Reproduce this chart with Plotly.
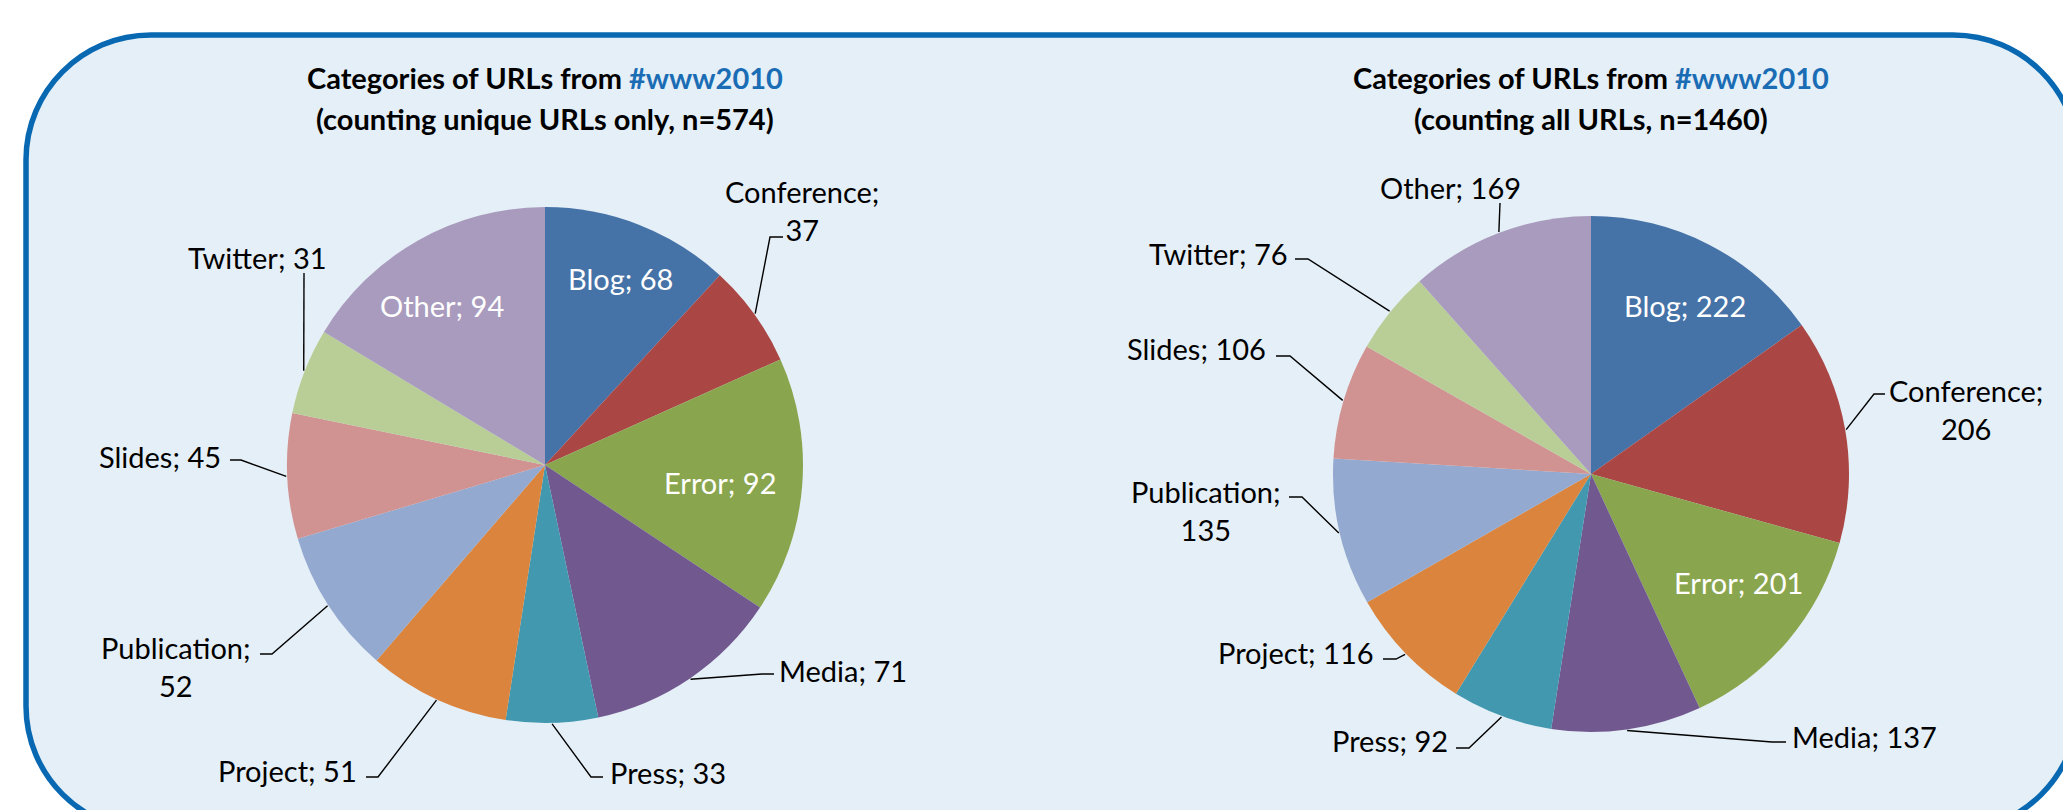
import math
import plotly.graph_objects as go

# ---------------- data ----------------
categories = ["Blog", "Conference", "Error", "Media", "Press", "Project",
              "Publication", "Slides", "Twitter", "Other"]
unique_counts = [68, 37, 92, 71, 33, 51, 52, 45, 31, 94]      # n = 574
all_counts = [222, 206, 201, 137, 92, 116, 135, 106, 76, 169]  # n = 1460
title_left = "Categories of URLs from "
title_tag = "#www2010"
subtitle_left = "(counting unique URLs only, n=574)"
subtitle_right = "(counting all URLs, n=1460)"

# ---------------- style ----------------
W, H = 2063, 810
R = 258
slice_colors = ["#4572A7", "#AA4643", "#89A54E", "#71588F", "#4198AF",
                "#DB843D", "#93A9CF", "#D19392", "#B9CD96", "#A99BBD"]
FONT = "Lato"
LABEL_SIZE = 29
TITLE_SIZE = 29
BG_FILL = "#E5EFF7"
BORDER = "#0868B2"
TAG_COLOR = "#1A6DB4"

# label placement (pixel coordinates, y downward) -- style only
left_style = dict(
    center=(545, 465),
    wrap={"Conference", "Publication"},
    labels={
        "Blog": ("in", 620, 278, "center", []),
        "Conference": ("out", 802, 210, "center", [(770, 237), (783, 237)]),
        "Error": ("in", 720, 482, "center", []),
        "Media": ("out", 777, 670, "left", [(762, 674), (774, 674)]),
        "Press": ("out", 608, 772, "left", [(591, 777), (603, 777)]),
        "Project": ("out", 359, 770, "right", [(378, 777), (366, 777)]),
        "Publication": ("out", 253, 666, "right", [(272, 654), (260, 654)]),
        "Slides": ("out", 223, 456, "right", [(241, 460), (230, 460)]),
        "Twitter": ("out", 257, 257, "center", [(304, 273)]),
        "Other": ("in", 442, 305, "center", []),
    },
)
right_style = dict(
    center=(1591, 474),
    wrap={"Conference", "Publication"},
    labels={
        "Blog": ("in", 1685, 305, "center", []),
        "Conference": ("out", 1887, 409, "left", [(1874, 394), (1885, 394)]),
        "Error": ("in", 1738, 582, "center", []),
        "Media": ("out", 1790, 736, "left", [(1772, 742), (1786, 742)]),
        "Press": ("out", 1450, 740, "right", [(1469, 748), (1456, 748)]),
        "Project": ("out", 1376, 652, "right", [(1396, 659), (1383, 659)]),
        "Publication": ("out", 1283, 510, "right", [(1302, 497), (1289, 497)]),
        "Slides": ("out", 1268, 348, "right", [(1290, 356), (1276, 356)]),
        "Twitter": ("out", 1290, 253, "right", [(1308, 259), (1295, 259)]),
        "Other": ("out", 1450, 187, "center", [(1500, 203)]),
    },
)

fig = go.Figure()
annotations = []


def add_pie(values, style, title_sub):
    cx, cy = style["center"]
    fig.add_trace(go.Pie(
        labels=categories, values=values, sort=False, direction="clockwise",
        rotation=0, marker=dict(colors=slice_colors, line=dict(width=0)),
        textinfo="none", hoverinfo="label+value", showlegend=False,
        domain=dict(x=[(cx - R) / W, (cx + R) / W],
                    y=[1 - (cy + R) / H, 1 - (cy - R) / H]),
    ))
    total = sum(values)
    cum = 0
    lx, ly = [], []
    for cat, v in zip(categories, values):
        mid = (cum + v / 2) / total * 2 * math.pi
        cum += v
        kind, tx, ty, anchor, route = style["labels"][cat]
        sep = "<br>" if cat in style["wrap"] else " "
        text = f"{cat};{sep}{v}"
        annotations.append(dict(
            x=tx, y=ty, xref="x", yref="y", text=text, showarrow=False,
            xanchor=anchor, yanchor="middle", align="center",
            font=dict(family=FONT, size=LABEL_SIZE,
                      color="white" if kind == "in" else "black"),
        ))
        if kind == "out":
            ex = cx + (R + 1) * math.sin(mid)
            ey = cy - (R + 1) * math.cos(mid)
            pts = [(ex, ey)] + route
            lx += [p[0] for p in pts] + [None]
            ly += [p[1] for p in pts] + [None]
    fig.add_trace(go.Scatter(x=lx, y=ly, mode="lines", hoverinfo="skip",
                             line=dict(color="black", width=1.4),
                             showlegend=False))
    annotations.append(dict(
        x=cx, y=77, xref="x", yref="y", showarrow=False,
        xanchor="center", yanchor="middle",
        text=f"<b>{title_left}<span style='color:{TAG_COLOR}'>{title_tag}</span></b>",
        font=dict(family=FONT, size=TITLE_SIZE, color="black"),
    ))
    annotations.append(dict(
        x=cx, y=118, xref="x", yref="y", showarrow=False,
        xanchor="center", yanchor="middle",
        text=f"<b>{title_sub}</b>",
        font=dict(family=FONT, size=TITLE_SIZE, color="black"),
    ))


add_pie(unique_counts, left_style, subtitle_left)
add_pie(all_counts, right_style, subtitle_right)

# rounded background panel
x0, y0, x1, y1, r = 26, 35, 2078, 831, 125
k = 0.5523 * r
path = (f"M {x0 + r},{y0} L {x1 - r},{y0} "
        f"C {x1 - r + k},{y0} {x1},{y0 + r - k} {x1},{y0 + r} "
        f"L {x1},{y1 - r} "
        f"C {x1},{y1 - r + k} {x1 - r + k},{y1} {x1 - r},{y1} "
        f"L {x0 + r},{y1} "
        f"C {x0 + r - k},{y1} {x0},{y1 - r + k} {x0},{y1 - r} "
        f"L {x0},{y0 + r} "
        f"C {x0},{y0 + r - k} {x0 + r - k},{y0} {x0 + r},{y0} Z")

fig.update_layout(
    width=W, height=H, margin=dict(l=0, r=0, t=0, b=0),
    paper_bgcolor="white", plot_bgcolor="rgba(0,0,0,0)",
    xaxis=dict(range=[0, W], visible=False, fixedrange=True, domain=[0, 1]),
    yaxis=dict(range=[H, 0], visible=False, fixedrange=True, domain=[0, 1]),
    shapes=[dict(type="path", xref="x", yref="y", path=path, layer="below",
                 fillcolor=BG_FILL, line=dict(color=BORDER, width=5.5))],
    annotations=annotations,
    font=dict(family=FONT),
)

fig.write_html(
    "out.html",
    config={"displayModeBar": False},
    post_script="document.body.style.margin='0';document.body.style.overflow='hidden';",
)
